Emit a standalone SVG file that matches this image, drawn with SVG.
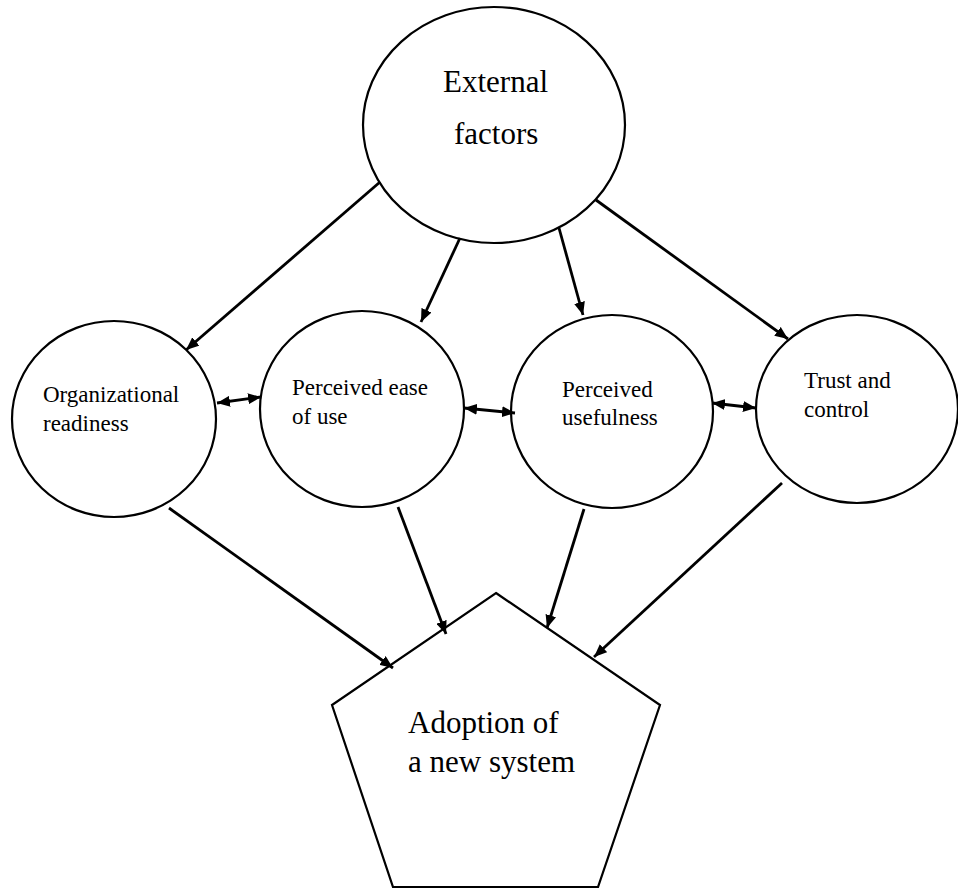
<svg xmlns="http://www.w3.org/2000/svg" width="958" height="888" viewBox="0 0 958 888">
<defs>
<marker id="ah" viewBox="0 0 13 11" refX="13" refY="5.5" markerWidth="13" markerHeight="11" markerUnits="userSpaceOnUse" orient="auto-start-reverse">
<path d="M0,0 L13,5.5 L0,11 Z" fill="#000"/>
</marker>
</defs>
<style>
.shape{fill:#fff;stroke:#000;stroke-width:2.2}
.big{font-size:31px;fill:#000}
.sm{font-size:23px;fill:#000}
.c{stroke:#000;stroke-width:2.8;fill:none}
.one{marker-end:url(#ah)}
.two{marker-start:url(#ah);marker-end:url(#ah)}
</style>
<rect width="958" height="888" fill="#fff"/>
<g font-family="'Liberation Serif', 'DejaVu Serif', serif">
<g id="external">
<ellipse class="shape" cx="494" cy="125" rx="131" ry="118"/>
<text class="big" x="443" y="92">External</text>
<text class="big" x="454" y="144">factors</text>
</g>
<g id="org">
<ellipse class="shape" cx="114" cy="419" rx="102" ry="98"/>
<text class="sm" x="43" y="402">Organizational</text>
<text class="sm" x="43" y="431">readiness</text>
</g>
<g id="peou">
<ellipse class="shape" cx="362" cy="409" rx="102" ry="98"/>
<text class="sm" x="292" y="395">Perceived ease</text>
<text class="sm" x="292" y="424">of use</text>
</g>
<g id="pu">
<ellipse class="shape" cx="612" cy="411.5" rx="101" ry="96.5"/>
<text class="sm" x="562" y="397">Perceived</text>
<text class="sm" x="562" y="425">usefulness</text>
</g>
<g id="trust">
<ellipse class="shape" cx="857" cy="409" rx="101" ry="94"/>
<text class="sm" x="804" y="388">Trust and</text>
<text class="sm" x="804" y="417">control</text>
</g>
<g id="adoption">
<polygon class="shape" points="496,593 660,705 598,887 393,887 332,705"/>
<text class="big" x="408" y="733">Adoption of</text>
<text class="big" x="408" y="772">a new system</text>
</g>
</g>
<g id="connectors">
<line class="c one" x1="380" y1="182" x2="186" y2="350"/>
<line class="c one" x1="460" y1="238" x2="421" y2="322"/>
<line class="c one" x1="559" y1="228" x2="583" y2="315"/>
<line class="c one" x1="596" y1="200" x2="788" y2="339"/>
<line class="c one" x1="169" y1="508" x2="393" y2="668"/>
<line class="c one" x1="398" y1="507" x2="446" y2="634"/>
<line class="c one" x1="584" y1="509" x2="547" y2="628"/>
<line class="c one" x1="782" y1="483" x2="594" y2="657"/>
<line class="c two" x1="217" y1="403" x2="261" y2="397"/>
<line class="c two" x1="464" y1="408" x2="515" y2="413"/>
<line class="c two" x1="712" y1="403" x2="756" y2="408"/>
</g>
</svg>
